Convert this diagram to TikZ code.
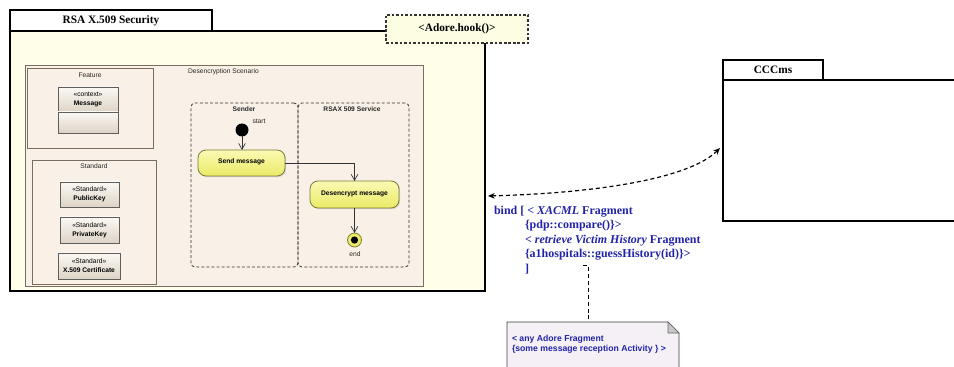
\documentclass[tikz,border=0pt]{standalone}
\usepackage{fontspec}
\setmainfont{Liberation Serif}
\newfontfamily\uisans{Liberation Sans}
\usetikzlibrary{arrows.meta,shadows,calc}

\definecolor{pkgfill}{HTML}{FFFFE9}
\definecolor{framefill}{HTML}{F9F1E7}
\definecolor{frameline}{HTML}{7A6C5E}
\definecolor{classtop}{HTML}{FBF8F3}
\definecolor{classbot}{HTML}{DDD4C7}
\definecolor{classline}{HTML}{5E5E5E}
\definecolor{acttop}{HTML}{FAFAB4}
\definecolor{actbot}{HTML}{EAEA66}
\definecolor{actline}{HTML}{7C7C3A}
\definecolor{hookfill}{HTML}{FDFDE4}
\definecolor{notefill}{HTML}{F4F0F6}
\definecolor{inkblue}{HTML}{2323A8}

\tikzset{
  sz/.style 2 args={minimum width=#1*0.75pt, minimum height=#2*0.75pt},
  pkgtab/.style={draw, line width=1.2pt, fill=white,
    font=\bfseries\fontsize{8.5}{10}\selectfont},
  pkgbody/.style={draw, line width=1.9pt},
  hookbox/.style={draw=black!80, dash pattern=on 2pt off 1.4pt, line width=0.8pt,
    fill=hookfill, font=\bfseries\fontsize{8.5}{10}\selectfont},
  framebox/.style={draw=frameline, line width=0.6pt, fill=framefill},
  uitext/.style={font=\uisans\fontsize{5}{6}\selectfont, text=black!85},
  uibold/.style={font=\uisans\bfseries\fontsize{5}{6}\selectfont, text=black!85},
  classbox/.style={draw=classline, line width=0.6pt, top color=classtop, bottom color=classbot,
    drop shadow={shadow xshift=0.8pt, shadow yshift=-0.8pt, opacity=0.35},
    align=center, font=\uisans\fontsize{5}{6.6}\selectfont},
  lane/.style={draw=black!80, line width=0.6pt, dash pattern=on 2.2pt off 1.6pt,
    rounded corners=3pt},
  action/.style={draw=actline, line width=0.6pt, rounded corners=6pt,
    top color=acttop, bottom color=actbot,
    drop shadow={shadow xshift=0.8pt, shadow yshift=-0.8pt, opacity=0.3},
    font=\uisans\bfseries\fontsize{5}{6}\selectfont},
  flow/.style={draw=black!80, line width=0.5pt, -{Straight Barb[length=4.5pt,width=5pt]}},
  bindlink/.style={line width=0.9pt, dash pattern=on 3pt off 2.2pt,
    {Stealth[length=5pt,width=4.2pt]}-{Stealth[length=5pt,width=4.2pt]}},
  bindtext/.style={text=inkblue, font=\bfseries\fontsize{9}{11}\selectfont,
    text height=7pt, text depth=2pt},
  notelink/.style={line width=0.7pt, dash pattern=on 3pt off 2.2pt},
  notetext/.style={text=inkblue, align=left, font=\uisans\bfseries\fontsize{6.5}{7.5}\selectfont}
}

\begin{document}
\begin{tikzpicture}[x=0.75pt, y=-0.75pt, every node/.style={inner sep=0pt, outer sep=0pt}]
\useasboundingbox (0,0) rectangle (954,367);
\clip (0,0) rectangle (954,367);

% ---------- package RSA X.509 Security ----------
\node[pkgbody, fill=pkgfill, sz={475}{260}, anchor=north west] (rsa) at (10,31) {};
\node[pkgtab, sz={202}{21}, anchor=south west] (rsatab) at (10,31) {RSA X.509 Security};
\node[hookbox, sz={142}{28}, anchor=north west] (hook) at (386,15) {<Adore.hook()>};

% activity frame
\node[framebox, sz={398}{221}, anchor=north west] (frame) at (25,65) {};
\node[uitext, anchor=west] (framelbl) at (188,72) {Desencryption Scenario};

% Feature group
\node[framebox, sz={126}{80}, anchor=north west] (feature) at (27,68) {};
\node[uitext] (featurelbl) at (90,75) {Feature};
\node[classbox, sz={60}{25}, anchor=north west] (msg) at (58,87)
  {«context»\\\textbf{Message}};
\node[classbox, sz={60}{21}, anchor=north west] (msgbody) at (58,112) {};

% Standard group
\node[framebox, sz={124}{124}, anchor=north west] (standard) at (32,160) {};
\node[uitext] (standardlbl) at (94,166) {Standard};
\node[classbox, sz={59}{25}, anchor=north west] (pubkey) at (60,182)
  {«Standard»\\\textbf{PublicKey}};
\node[classbox, sz={59}{26}, anchor=north west] (privkey) at (60,217)
  {«Standard»\\\textbf{PrivateKey}};
\node[classbox, sz={62}{26}, anchor=north west] (cert) at (58,253)
  {«Standard»\\\textbf{X.509 Certificate}};

% swimlanes
\node[lane, sz={107}{164}, anchor=north west] (sender) at (191,103) {};
\node[lane, sz={111}{164}, anchor=north west] (service) at (298,103) {};
\node[uibold] (senderlbl) at (244,109) {Sender};
\node[uibold] (servicelbl) at (352,109) {RSAX 509 Service};

% activity nodes
\node[circle, fill=black, minimum size=13*0.75pt] (start) at (242,130) {};
\node[uitext] (startlbl) at (259,121) {start};
\node[action, sz={87}{26}, anchor=north west] (send) at (198,150) {\raisebox{2.5pt}{Send message}};
\node[action, sz={89}{27}, anchor=north west] (decrypt) at (310,181) {\raisebox{2.5pt}{Desencrypt message}};
\node[circle, draw=actline, line width=0.6pt, fill=actbot, minimum size=14*0.75pt] (final) at (354.5,240) {};
\fill[black] (final.center) circle[radius=3.6];
\node[uitext] (endlbl) at (355,254) {end};

\draw[flow] (start.south) -- (start.south |- send.north);
\draw[flow] (send.east) -| (decrypt.north);
\draw[flow] (decrypt.south) -- (final.north);

% ---------- package CCCms ----------
\node[pkgbody, line width=2.1pt, fill=white, sz={262}{141}, anchor=north west] (ccc) at (723,80) {};
\node[pkgtab, line width=1.3pt, sz={100}{20}, anchor=south west] (ccctab) at (723,80) {CCCms};

% binding between the packages
\coordinate (bindL) at ($(rsa.south east)+(3,-95)$);
\coordinate (bindR) at ($(ccc.north west)+(-3,68)$);
\draw[bindlink] (bindL) .. controls (600,193) and (690,178) .. (bindR);

\node[bindtext, anchor=west] (bind1) at (494,211) {bind [ < \textit{XACML} Fragment};
\node[bindtext, anchor=west] (bind2) at (525,225) {\{pdp::compare()\}>};
\node[bindtext, anchor=west] (bind3) at (525,240) {< \textit{retrieve Victim History} Fragment};
\node[bindtext, anchor=west] (bind4) at (525,254) {\{a1hospitals::guessHistory(id)\}>};
\node[bindtext, anchor=west] (bind5) at (525,269) {]};

% note
\node[sz={172}{60}, anchor=north west] (note) at (507,322) {};
\fill[notefill] (note.north west) -- ($(note.north east)+(-11,0)$) -- ($(note.north east)+(0,11)$)
  -- (note.south east) -- (note.south west) -- cycle;
\draw[black!75, line width=0.7pt] (note.south west) -- (note.north west) -- ($(note.north east)+(-11,0)$)
  -- ($(note.north east)+(0,11)$) -- (note.south east);
\filldraw[fill=black!22, draw=black!60, line width=0.5pt] ($(note.north east)+(-11,0)$)
  -- ($(note.north east)+(-11,11)$) -- ($(note.north east)+(0,11)$) -- cycle;
\node[notetext, anchor=west] (notetxt) at (512,344)
  {< any Adore Fragment\\\{some message reception Activity \} >};

% link from the binding text down to the note
\coordinate (tick) at (583,265);
\coordinate (notetop) at ($(note.north west)+(81,0)$);
\draw[notelink] (tick) -- (tick -| notetop) -- (notetop);
\end{tikzpicture}
\end{document}
